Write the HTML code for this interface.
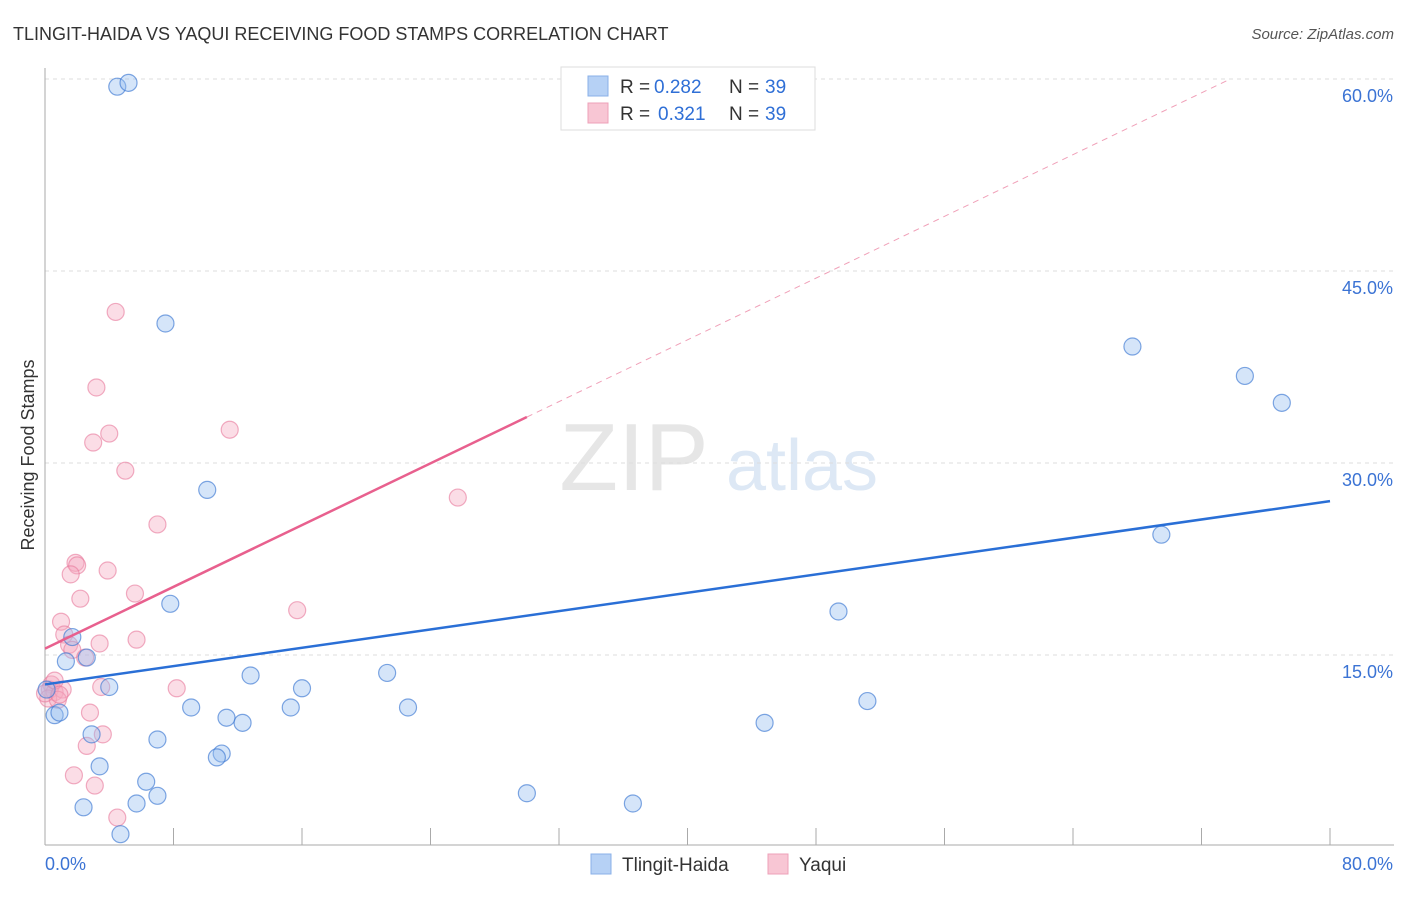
<!DOCTYPE html>
<html><head><meta charset="utf-8"><style>
body{margin:0;background:#fff;font-family:"Liberation Sans",sans-serif;}
svg text{font-family:"Liberation Sans",sans-serif;}
</style></head><body>
<svg id="c" width="1406" height="892">
<text x="13" y="40" font-size="18" fill="#333">TLINGIT-HAIDA VS YAQUI RECEIVING FOOD STAMPS CORRELATION CHART</text>
<text x="1394" y="39" font-size="15" fill="#555" text-anchor="end" font-style="italic">Source: ZipAtlas.com</text>
<g><text x="634" y="490" font-size="96" fill="#e6e6e6" text-anchor="middle" font-family="Liberation Serif">ZIP</text><text x="802" y="490" font-size="72" fill="#dde8f5" text-anchor="middle">atlas</text></g>
<g id="grid"></g><g id="axes"></g><g id="pts"></g><g id="lines"></g>
<text transform="translate(34,455) rotate(-90)" font-size="18" fill="#333" text-anchor="middle">Receiving Food Stamps</text>
<g>
<rect x="561" y="67" width="254" height="63" fill="#fff" stroke="#ddd"/>
<rect x="588" y="76" width="20" height="20" fill="#b6d1f5" stroke="#8ab0e8"/>
<text x="620" y="93" font-size="19" fill="#333">R =</text><text x="654" y="93" font-size="19" fill="#2f6fd6">0.282</text>
<text x="729" y="93" font-size="19" fill="#333">N =</text><text x="765" y="93" font-size="19" fill="#2f6fd6">39</text>
<rect x="588" y="103" width="20" height="20" fill="#f8c6d4" stroke="#eea0b8"/>
<text x="620" y="120" font-size="19" fill="#333">R =</text><text x="658" y="120" font-size="19" fill="#2f6fd6">0.321</text>
<text x="729" y="120" font-size="19" fill="#333">N =</text><text x="765" y="120" font-size="19" fill="#2f6fd6">39</text>
</g>
<g>
<rect x="591" y="854" width="20" height="20" fill="#b6d1f5" stroke="#8ab0e8"/><text x="622" y="871" font-size="19" fill="#333">Tlingit-Haida</text>
<rect x="768" y="854" width="20" height="20" fill="#f8c6d4" stroke="#eea0b8"/><text x="799" y="871" font-size="19" fill="#333">Yaqui</text>
</g>
</svg>
<script>
const yTicks=[15,30,45,60];
const yTickLabels=["15.0%","30.0%","45.0%","60.0%"];
const blueX=[4.5,5.2,7.5,10.1,7.8,1.7,1.3,2.6,4.0,0.6,0.9,2.9,7.0,9.1,11.3,12.3,12.8,16.0,15.3,11.0,10.7,3.4,6.3,7.0,5.7,2.4,4.7,21.3,22.6,30.0,36.6,44.8,49.4,51.2,67.7,69.5,74.7,77.0,0.1];
const blueY=[59.4,59.7,40.9,27.9,19.0,16.4,14.5,14.8,12.5,10.3,10.5,8.8,8.4,10.9,10.1,9.7,13.4,12.4,10.9,7.3,7.0,6.3,5.1,4.0,3.4,3.1,1.0,13.6,10.9,4.2,3.4,9.7,18.4,11.4,39.1,24.4,36.8,34.7,12.3];
const pinkX=[4.4,3.2,3.0,4.0,5.0,11.5,7.0,25.7,1.9,2.0,1.6,3.9,2.2,5.6,15.7,1.0,1.2,3.4,5.7,1.5,1.7,2.5,0.4,0.3,0.6,1.1,0.2,3.5,8.2,2.8,3.6,2.6,1.8,3.1,4.5,0.8,0.0,0.6,0.9];
const pinkY=[41.8,35.9,31.6,32.3,29.4,32.6,25.2,27.3,22.2,22.0,21.3,21.6,19.4,19.8,18.5,17.6,16.6,15.9,16.2,15.8,15.4,14.8,12.7,12.3,12.1,12.3,11.6,12.5,12.4,10.5,8.8,7.9,5.6,4.8,2.3,11.5,12.0,13.0,11.9];
const blueTrend=[12.7,0.179];
const pinkTrend=[15.5,0.603];
const X0=45,X1=1330,Y0=847,PX=(X1-X0)/80,PY=12.8;
const sx=v=>X0+v*PX, sy=v=>Y0-v*PY;
const NS="http://www.w3.org/2000/svg";
function mk(p,t,a){const e=document.createElementNS(NS,t);for(const k in a)e.setAttribute(k,a[k]);p.appendChild(e);return e;}
const grid=document.getElementById('grid'),axes=document.getElementById('axes'),pts=document.getElementById('pts'),lines=document.getElementById('lines');
yTicks.forEach((t,i)=>{
 const l=mk(grid,'line',{x1:X0,x2:1394,y1:sy(t),y2:sy(t),stroke:'#ddd','stroke-dasharray':'4,4'});
 
 
 const tx=mk(axes,'text',{x:1393,y:sy(t)+23,'font-size':18,fill:'#3b73d4','text-anchor':'end'});
 tx.textContent=yTickLabels[i];
 
 
});
const ax=mk(axes,'line',{x1:X0,x2:X0,y1:68,y2:845,stroke:'#aaa'});


const bx=mk(axes,'line',{x1:X0,x2:1394,y1:845,y2:845,stroke:'#aaa'});


for(let i=1;i<=10;i++){const t=mk(axes,'line',{x1:X0+i*128.5,x2:X0+i*128.5,y1:828,y2:845,stroke:'#aaa'});
 
 }
[["0.0%",45,'start'],["80.0%",1393,'end']].forEach(a=>{const t=mk(axes,'text',{x:a[1],y:870,'font-size':18,fill:'#3b73d4','text-anchor':a[2]});t.textContent=a[0];
 
 });
function dots(xs,ys,f,s,n){xs.forEach((x,i)=>{const c=mk(pts,'circle',{cx:sx(x),cy:sy(ys[i]),r:8.5,fill:f,stroke:s,'stroke-width':1.2});
 
 });}
dots(pinkX,pinkY,'rgba(246,170,192,0.4)','rgba(232,120,155,0.6)','yaqui-point');
dots(blueX,blueY,'rgba(150,190,240,0.4)','rgba(60,120,210,0.65)','tlingit-haida-point');
const bl=mk(lines,'line',{x1:sx(0),y1:sy(blueTrend[0]),x2:sx(80),y2:sy(blueTrend[0]+80*blueTrend[1]),stroke:'#2a6fd6','stroke-width':2.5});


const pl=mk(lines,'line',{x1:sx(0),y1:sy(pinkTrend[0]),x2:sx(30),y2:sy(pinkTrend[0]+30*pinkTrend[1]),stroke:'#e8608e','stroke-width':2.5});


const xe=(60-pinkTrend[0])/pinkTrend[1];
const pd=mk(lines,'line',{x1:sx(30),y1:sy(pinkTrend[0]+30*pinkTrend[1]),x2:sx(xe),y2:sy(60),stroke:'#f0a0b8','stroke-width':1,'stroke-dasharray':'6,5'});


</script>
</body></html>
